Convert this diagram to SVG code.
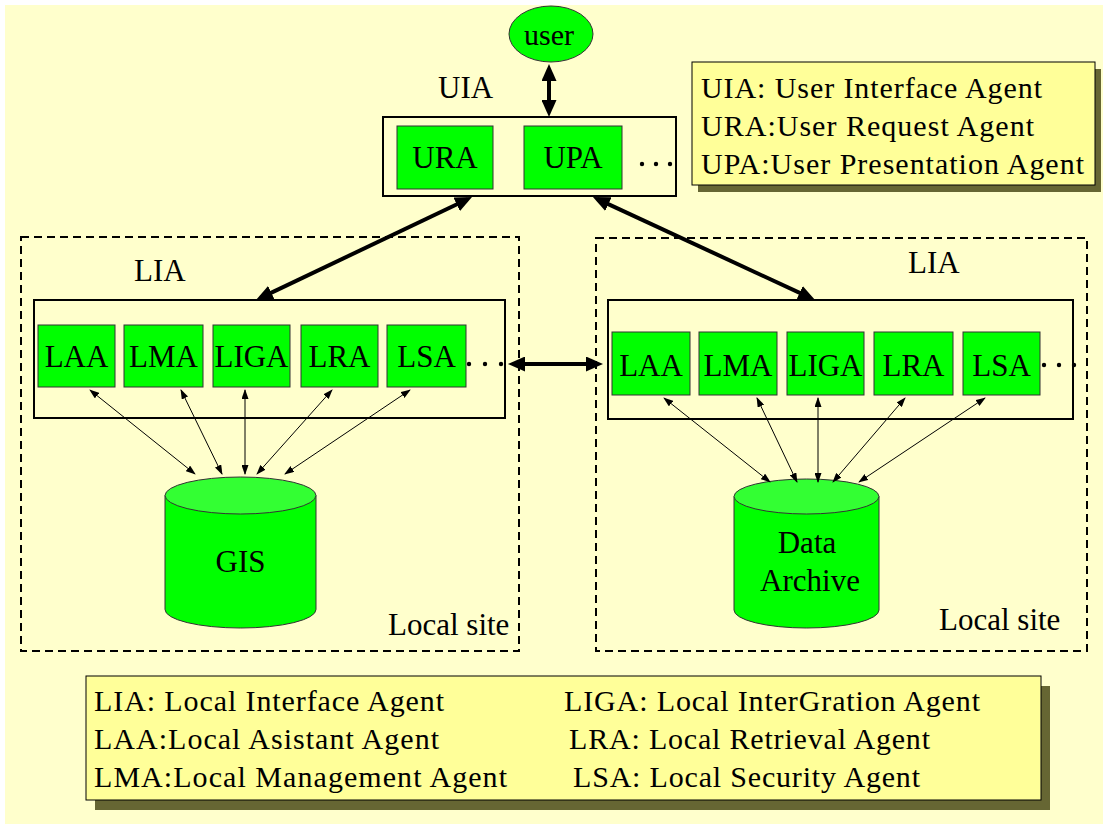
<svg xmlns="http://www.w3.org/2000/svg" width="1103" height="824" viewBox="0 0 1103 824">
<defs>
<style>
text{font-family:'Liberation Serif','Times New Roman',serif;fill:#000}
.lbl{font-size:31px}
.box-lbl{font-size:31px;text-anchor:middle}
.leg{font-size:30px}
.agent{fill:#00FF00;stroke:#333;stroke-width:1}
.frame{fill:#FFFFCC;stroke:#000;stroke-width:2}
.site{fill:none;stroke:#000;stroke-width:2;stroke-dasharray:8 5}
.legend{fill:#FFFF99;stroke:#000;stroke-width:1}
.shadow{fill:#666633}
.cyl{fill:#00FF00;stroke:#333;stroke-width:1}
.cyltop{fill:#33FF33;stroke:#333;stroke-width:1}
.big{stroke:#000;stroke-width:4;fill:none;marker-start:url(#bigHead);marker-end:url(#bigHead)}
.thin{stroke:#000;stroke-width:1;fill:none;marker-start:url(#thinHead);marker-end:url(#thinHead)}
.dot{fill:#000}
</style>
<marker id="bigHead" viewBox="0 0 17 15" refX="12" refY="7.5" markerWidth="17" markerHeight="15" markerUnits="userSpaceOnUse" orient="auto-start-reverse">
<path d="M0,0 L17,7.5 L0,15 z" fill="#000"/>
</marker>
<marker id="thinHead" viewBox="0 0 10 7" refX="9" refY="3.5" markerWidth="10" markerHeight="7" markerUnits="userSpaceOnUse" orient="auto-start-reverse">
<path d="M0,0 L10,3.5 L0,7 z" fill="#000"/>
</marker>
</defs>
<rect x="0" y="0" width="1103" height="824" fill="#FFFFFF"/>
<rect x="5" y="5" width="1098" height="819" fill="#FFFFCC"/>

<g id="site-left">
<rect class="site" x="21" y="237" width="498" height="414"/>
<text class="lbl" x="388" y="635">Local site</text>
</g>
<g id="site-right">
<rect class="site" x="596" y="238" width="491" height="413"/>
<text class="lbl" x="939" y="630">Local site</text>
</g>

<g id="user">
<ellipse cx="551" cy="34" rx="42" ry="28" fill="#00FF00" stroke="#333" stroke-width="1"/>
<text class="box-lbl" x="549" y="45" style="font-size:30px">user</text>
</g>

<g id="uia">
<text class="lbl" x="438" y="98">UIA</text>
<rect class="frame" x="383" y="117" width="293" height="79"/>
<g id="ura"><rect class="agent" x="397" y="126" width="96" height="63"/><text class="box-lbl" x="445" y="168">URA</text></g>
<g id="upa"><rect class="agent" x="524" y="126" width="98" height="63"/><text class="box-lbl" x="573" y="168">UPA</text></g>
<circle class="dot" cx="642" cy="164" r="2.2"/><circle class="dot" cx="656" cy="164" r="2.2"/><circle class="dot" cx="670" cy="164" r="2.2"/>
</g>

<g id="lia-left">
<text class="lbl" x="134" y="281">LIA</text>
<rect class="frame" x="34" y="300" width="471" height="118"/>
<g id="l-laa"><rect class="agent" x="38" y="325" width="77" height="62"/><text class="box-lbl" x="76.5" y="367">LAA</text></g>
<g id="l-lma"><rect class="agent" x="124" y="325" width="79" height="62"/><text class="box-lbl" x="163.5" y="367">LMA</text></g>
<g id="l-liga"><rect class="agent" x="213" y="325" width="77" height="62"/><text class="box-lbl" x="251.5" y="367">LIGA</text></g>
<g id="l-lra"><rect class="agent" x="301" y="325" width="77" height="62"/><text class="box-lbl" x="339.5" y="367">LRA</text></g>
<g id="l-lsa"><rect class="agent" x="387" y="325" width="79" height="62"/><text class="box-lbl" x="426.5" y="367">LSA</text></g>
<circle class="dot" cx="469" cy="364" r="2.2"/><circle class="dot" cx="485" cy="364" r="2.2"/><circle class="dot" cx="501" cy="364" r="2.2"/>
</g>

<g id="lia-right">
<text class="lbl" x="908" y="273">LIA</text>
<rect class="frame" x="608" y="300" width="465" height="119"/>
<g id="r-laa"><rect class="agent" x="612" y="332" width="78" height="63"/><text class="box-lbl" x="651" y="376">LAA</text></g>
<g id="r-lma"><rect class="agent" x="699" y="332" width="78" height="63"/><text class="box-lbl" x="738" y="376">LMA</text></g>
<g id="r-liga"><rect class="agent" x="787" y="332" width="77" height="63"/><text class="box-lbl" x="825.5" y="376">LIGA</text></g>
<g id="r-lra"><rect class="agent" x="874" y="332" width="79" height="63"/><text class="box-lbl" x="913.5" y="376">LRA</text></g>
<g id="r-lsa"><rect class="agent" x="963" y="332" width="77" height="63"/><text class="box-lbl" x="1001.5" y="376">LSA</text></g>
<circle class="dot" cx="1044" cy="365" r="2.2"/><circle class="dot" cx="1059" cy="365" r="2.2"/><circle class="dot" cx="1074" cy="365" r="2.2"/>
</g>

<g id="gis">
<path class="cyl" d="M165,495.5 L165,609.5 A75.5,18.5 0 0 0 316,609.5 L316,495.5 z"/>
<ellipse class="cyltop" cx="240.5" cy="495.5" rx="75.5" ry="18.5"/>
<text class="box-lbl" x="240.5" y="572">GIS</text>
</g>

<g id="archive">
<path class="cyl" d="M734,496.5 L734,610 A72.5,18 0 0 0 879,610 L879,496.5 z"/>
<ellipse class="cyltop" cx="806.5" cy="496.5" rx="72.5" ry="17.5"/>
<text class="box-lbl" x="807" y="553">Data</text>
<text class="box-lbl" x="810" y="591">Archive</text>
</g>

<g id="legend-top">
<rect class="shadow" x="698" y="69" width="403" height="123"/>
<rect class="legend" x="692" y="62" width="403" height="123"/>
<text class="leg" x="701" y="98" textLength="341" lengthAdjust="spacing">UIA: User Interface Agent</text>
<text class="leg" x="701" y="136" textLength="333" lengthAdjust="spacing">URA:User Request Agent</text>
<text class="leg" x="701" y="174" textLength="383" lengthAdjust="spacing">UPA:User Presentation Agent</text>
</g>

<g id="legend-bottom">
<rect class="shadow" x="95" y="686" width="955" height="124"/>
<rect class="legend" x="86" y="676" width="955" height="124"/>
<text class="leg" x="94" y="711" textLength="350" lengthAdjust="spacing">LIA: Local Interface Agent</text>
<text class="leg" x="94" y="749" textLength="345" lengthAdjust="spacing">LAA:Local Asistant Agent</text>
<text class="leg" x="94" y="787" textLength="413" lengthAdjust="spacing">LMA:Local Management Agent</text>
<text class="leg" x="564" y="711" textLength="416" lengthAdjust="spacing">LIGA: Local InterGration Agent</text>
<text class="leg" x="569" y="749" textLength="361" lengthAdjust="spacing">LRA: Local Retrieval Agent</text>
<text class="leg" x="573" y="787" textLength="347" lengthAdjust="spacing">LSA: Local Security Agent</text>
</g>

<g id="connectors">
<line class="big" x1="549" y1="69" x2="549" y2="112"/>
<line class="big" x1="260.5" y1="297.9" x2="467.5" y2="199.2"/>
<line class="big" x1="597.5" y1="199.1" x2="810.5" y2="297.9"/>
<line class="big" x1="513" y1="364" x2="598" y2="364"/>
<line class="thin" x1="90" y1="390" x2="195" y2="474"/>
<line class="thin" x1="181" y1="390" x2="222" y2="474"/>
<line class="thin" x1="245" y1="390" x2="245" y2="474"/>
<line class="thin" x1="332" y1="390" x2="257" y2="474"/>
<line class="thin" x1="410" y1="390" x2="285" y2="474"/>
<line class="thin" x1="664" y1="398" x2="770" y2="482"/>
<line class="thin" x1="757" y1="398" x2="797" y2="482"/>
<line class="thin" x1="818" y1="398" x2="818" y2="482"/>
<line class="thin" x1="905" y1="398" x2="833" y2="482"/>
<line class="thin" x1="985" y1="398" x2="859" y2="482"/>
</g>
</svg>
